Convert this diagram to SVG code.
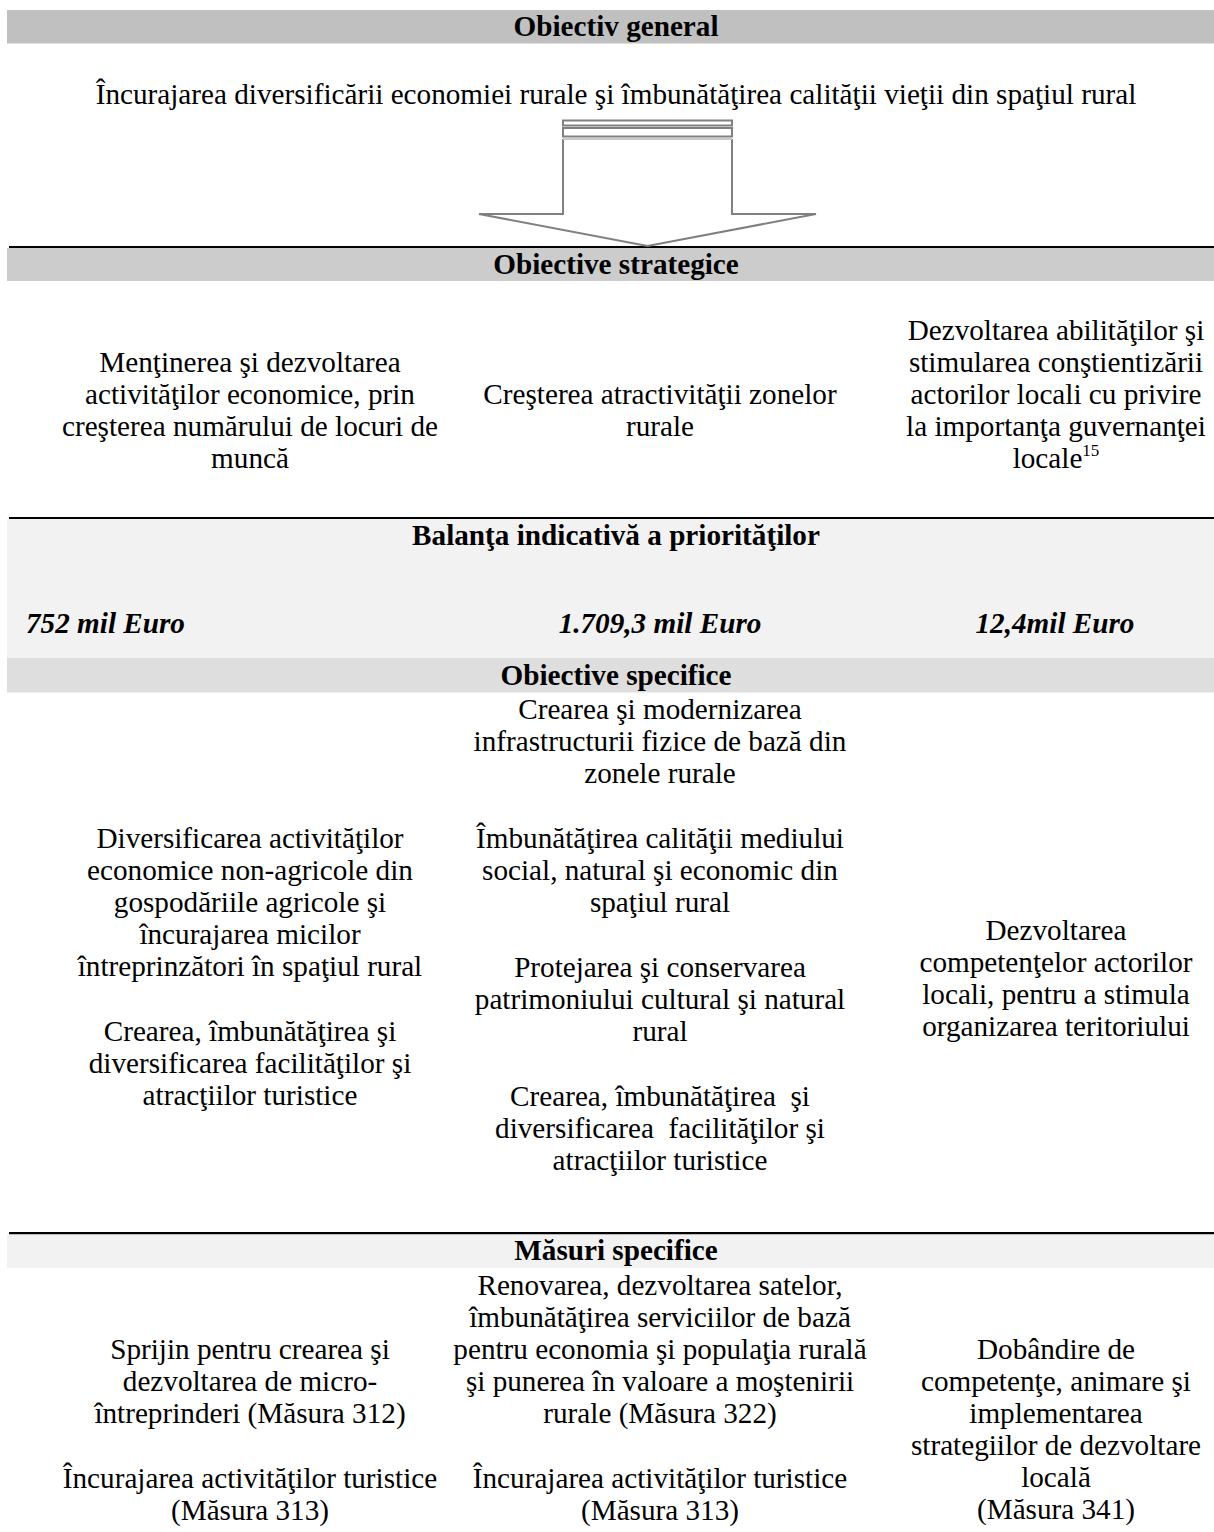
<svg xmlns="http://www.w3.org/2000/svg" width="1214" height="1532" viewBox="0 0 1214 1532">
<style>
.t{font-family:"Liberation Serif","Times New Roman",serif;font-size:29.2px;fill:#000}
.c{text-anchor:middle}
.b{font-weight:bold}
.i{font-style:italic}
.pre{white-space:pre}
.rule{fill:#000}
</style>
<rect x="0" y="0" width="1214" height="1532" fill="#fff"/>
<g id="bands">
<rect x="7" y="10" width="1207" height="33.5" fill="#c0c0c0"/>
<rect x="9" y="246" width="1205" height="2" class="rule"/>
<rect x="7" y="248" width="1207" height="33" fill="#cccccc"/>
<rect x="9" y="517" width="1205" height="2" class="rule"/>
<rect x="7" y="519" width="1207" height="139" fill="#f2f2f2"/>
<rect x="7" y="658" width="1207" height="34.5" fill="#dedede"/>
<rect x="9" y="1232" width="1205" height="2.5" class="rule"/>
<rect x="7" y="1234.5" width="1207" height="33.5" fill="#f2f2f2"/>
</g>
<g id="connectors">
<g id="arrow" fill="#fff" stroke="#808080" stroke-width="2">
<rect x="563" y="120.5" width="169" height="5"/>
<rect x="563" y="128" width="169" height="8.5"/>
<path d="M563,139 V214 H479 L647.5,246 L816,214 H732 V139" stroke-linejoin="miter"/>
<line x1="563" y1="139" x2="732" y2="139" stroke="#c8c8c8"/>
</g>
</g>
<g id="n-obiectiv-general" class="t">
<text class="c b" x="616" y="36">Obiectiv general</text>
<text class="c" x="616" y="104">Încurajarea diversificării economiei rurale şi îmbunătăţirea calităţii vieţii din spaţiul rural</text>
</g>
<g id="n-obiective-strategice" class="t">
<text class="c b" x="616" y="274">Obiective strategice</text>
</g>
<g id="n-strat-1" class="t c">
<text x="250" y="372">Menţinerea şi dezvoltarea</text>
<text x="250" y="404">activităţilor economice, prin</text>
<text x="250" y="436">creşterea numărului de locuri de</text>
<text x="250" y="468">muncă</text>
</g>
<g id="n-strat-2" class="t c">
<text x="660" y="404">Creşterea atractivităţii zonelor</text>
<text x="660" y="436">rurale</text>
</g>
<g id="n-strat-3" class="t c">
<text x="1056" y="340">Dezvoltarea abilităţilor şi</text>
<text x="1056" y="372">stimularea conştientizării</text>
<text x="1056" y="404">actorilor locali cu privire</text>
<text x="1056" y="436">la importanţa guvernanţei</text>
<text x="1056" y="468">locale<tspan font-size="17" dy="-12">15</tspan></text>
</g>
<g id="n-balanta" class="t">
<text class="c b" x="616" y="545">Balanţa indicativă a priorităţilor</text>
<text class="b i" x="26" y="633">752 mil Euro</text>
<text class="c b i" x="660" y="633">1.709,3 mil Euro</text>
<text class="c b i" x="1055" y="633">12,4mil Euro</text>
</g>
<g id="n-obiective-specifice" class="t">
<text class="c b" x="616" y="685">Obiective specifice</text>
</g>
<g id="n-spec-1" class="t c">
<text x="250" y="848">Diversificarea activităţilor</text>
<text x="250" y="880">economice non-agricole din</text>
<text x="250" y="912">gospodăriile agricole şi</text>
<text x="250" y="944">încurajarea micilor</text>
<text x="250" y="976">întreprinzători în spaţiul rural</text>
<text x="250" y="1041">Crearea, îmbunătăţirea şi</text>
<text x="250" y="1073">diversificarea facilităţilor şi</text>
<text x="250" y="1105">atracţiilor turistice</text>
</g>
<g id="n-spec-2" class="t c">
<text x="660" y="719">Crearea şi modernizarea</text>
<text x="660" y="751">infrastructurii fizice de bază din</text>
<text x="660" y="783">zonele rurale</text>
<text x="660" y="848">Îmbunătăţirea calităţii mediului</text>
<text x="660" y="880">social, natural şi economic din</text>
<text x="660" y="912">spaţiul rural</text>
<text x="660" y="977">Protejarea şi conservarea</text>
<text x="660" y="1009">patrimoniului cultural şi natural</text>
<text x="660" y="1041">rural</text>
<text class="pre" x="660" y="1106">Crearea, îmbunătăţirea  şi</text>
<text class="pre" x="660" y="1138">diversificarea  facilităţilor şi</text>
<text x="660" y="1170">atracţiilor turistice</text>
</g>
<g id="n-spec-3" class="t c">
<text x="1056" y="940">Dezvoltarea</text>
<text x="1056" y="972">competenţelor actorilor</text>
<text x="1056" y="1004">locali, pentru a stimula</text>
<text x="1056" y="1036">organizarea teritoriului</text>
</g>
<g id="n-masuri" class="t">
<text class="c b" x="616" y="1260">Măsuri specifice</text>
</g>
<g id="n-mas-1" class="t c">
<text x="250" y="1359">Sprijin pentru crearea şi</text>
<text x="250" y="1391">dezvoltarea de micro-</text>
<text x="250" y="1423">întreprinderi (Măsura 312)</text>
<text x="250" y="1488">Încurajarea activităţilor turistice</text>
<text x="250" y="1520">(Măsura 313)</text>
</g>
<g id="n-mas-2" class="t c">
<text x="660" y="1295">Renovarea, dezvoltarea satelor,</text>
<text x="660" y="1327">îmbunătăţirea serviciilor de bază</text>
<text x="660" y="1359">pentru economia şi populaţia rurală</text>
<text x="660" y="1391">şi punerea în valoare a moştenirii</text>
<text x="660" y="1423">rurale (Măsura 322)</text>
<text x="660" y="1488">Încurajarea activităţilor turistice</text>
<text x="660" y="1520">(Măsura 313)</text>
</g>
<g id="n-mas-3" class="t c">
<text x="1056" y="1359">Dobândire de</text>
<text x="1056" y="1391">competenţe, animare şi</text>
<text x="1056" y="1423">implementarea</text>
<text x="1056" y="1455">strategiilor de dezvoltare</text>
<text x="1056" y="1487">locală</text>
<text x="1056" y="1519">(Măsura 341)</text>
</g>
</svg>
